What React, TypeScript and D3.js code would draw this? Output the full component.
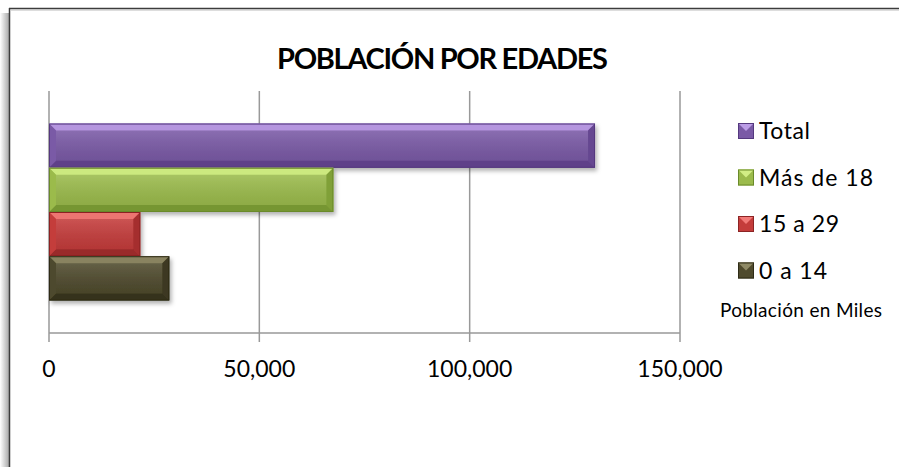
import * as d3 from 'd3';

// values (thousands of people)
const series = ['Total', 'Más de 18', '15 a 29', '0 a 14'];
const values = [129800, 67600, 21700, 28600];
const ticks = [0, 50000, 100000, 150000];
const colors = ['#7a5aa6', '#9bbb4c', '#c43c3b', '#4f4a2d'];
const lights = ['#bb9ce6', '#d2ee85', '#f27a78', '#8f8a66'];
const darks = ['#55397f', '#6a8a2a', '#8c2424', '#2e2b17'];

const W = 899;
const H = 467;
const plot = { left: 49, right: 680, top: 91, bottom: 333 };
const font = 'Lato, "Open Sans", sans-serif';

const Bar = ({ x0, x1, y, h, i }: { x0: number; x1: number; y: number; h: number; i: number }) => {
  const b = Math.min(7, (x1 - x0) / 2);
  const xa = x0;
  const xb = x1;
  return (
    <g filter="url(#shadow)">
      <rect x={xa} y={y} width={xb - xa} height={h} fill={colors[i]} />
      {/* bevel faces */}
      <polygon points={`${xa},${y} ${xb},${y} ${xb - b},${y + b} ${xa + b},${y + b}`} fill={lights[i]} opacity={0.9} />
      <polygon points={`${xa},${y + h} ${xb},${y + h} ${xb - b},${y + h - b} ${xa + b},${y + h - b}`} fill={darks[i]} opacity={0.75} />
      <polygon points={`${xa},${y} ${xa + b},${y + b} ${xa + b},${y + h - b} ${xa},${y + h}`} fill={colors[i]} opacity={0.6} />
      <polygon points={`${xb},${y} ${xb - b},${y + b} ${xb - b},${y + h - b} ${xb},${y + h}`} fill={darks[i]} opacity={0.55} />
      <rect x={xa + b} y={y + b} width={Math.max(0, xb - xa - 2 * b)} height={h - 2 * b} fill="url(#sheen)" />
      <rect x={xa + 0.5} y={y + 0.5} width={xb - xa - 1} height={h - 1} fill="none" stroke={darks[i]} strokeWidth={1} />
    </g>
  );
};

const App = () => {
  const x = d3.scaleLinear().domain([0, 150000]).range([plot.left, plot.right]);
  const cat = d3.scaleBand().domain(['Población']).range([plot.top, plot.bottom]).paddingOuter(0.184);
  const y = d3
    .scaleBand()
    .domain(series)
    .range([cat('Población') as number, (cat('Población') as number) + cat.bandwidth()]);
  const fmt = d3.format(',');
  const legendWidths = [51, 114, 80, 68];

  return (
    <svg width={W} height={H} style={{ position: 'absolute', left: 0, top: 0, background: '#fff' }}>
      <defs>
        <filter id="shadow" x="-10%" y="-20%" width="130%" height="160%">
          <feDropShadow dx="2" dy="3" stdDeviation="2" floodColor="#000" floodOpacity="0.3" />
        </filter>
        <linearGradient id="sheen" x1="0" y1="0" x2="0" y2="1">
          <stop offset="0" stopColor="#fff" stopOpacity="0.12" />
          <stop offset="1" stopColor="#000" stopOpacity="0.08" />
        </linearGradient>
        <linearGradient id="frameShadow" x1="0" y1="0" x2="1" y2="0">
          <stop offset="0" stopColor="#fff" />
          <stop offset="1" stopColor="#a8a8a8" />
        </linearGradient>
      </defs>

      {/* frame */}
      <rect x={0} y={13} width={9} height={H - 13} fill="url(#frameShadow)" />
      <line x1={9.5} y1={8} x2={9.5} y2={H} stroke="#3c3c3c" strokeWidth={1.5} />
      <line x1={9} y1={8.5} x2={W} y2={8.5} stroke="#3c3c3c" strokeWidth={1.5} />
      <line x1={11} y1={10} x2={W} y2={10} stroke="#bbb" strokeWidth={1} />

      {/* title */}
      <text x={442.5} y={69} textAnchor="middle" fontFamily={font} fontWeight="bold" fontSize={29} textLength={331} fill="#000">
        POBLACIÓN POR EDADES
      </text>

      {/* gridlines */}
      {ticks.map((t) => (
        <line key={t} x1={x(t)} x2={x(t)} y1={plot.top} y2={plot.bottom + 9} stroke="#999" strokeWidth={1.5} />
      ))}
      <line x1={plot.left} x2={plot.right} y1={plot.bottom} y2={plot.bottom} stroke="#999" strokeWidth={1.5} />

      {/* bars */}
      {series.map((s, i) => (
        <Bar key={s} x0={x(0)} x1={x(values[i])} y={y(s) as number} h={y.bandwidth()} i={i} />
      ))}

      {/* axis labels */}
      {ticks.map((t) => (
        <text key={t} x={x(t)} y={377} textAnchor="middle" fontFamily={font} fontSize={23} fill="#000">
          {fmt(t)}
        </text>
      ))}

      {/* legend */}
      {series.map((s, i) => {
        const base = 139 + i * 46.5;
        return (
          <g key={s}>
            <rect x={738} y={base - 16} width={16} height={16} fill={colors[i]} />
            <polygon points={`738,${base - 16} 754,${base - 16} 746,${base - 8}`} fill={lights[i]} />
            <rect x={738.5} y={base - 15.5} width={15} height={15} fill="none" stroke={darks[i]} strokeWidth={1} />
            <text x={759} y={base} fontFamily={font} fontSize={23} textLength={legendWidths[i]} fill="#000">
              {s}
            </text>
          </g>
        );
      })}
      <text x={801} y={317} textAnchor="middle" fontFamily={font} fontSize={19} textLength={162} fill="#000">
        Población en Miles
      </text>
    </svg>
  );
};

export default App;
